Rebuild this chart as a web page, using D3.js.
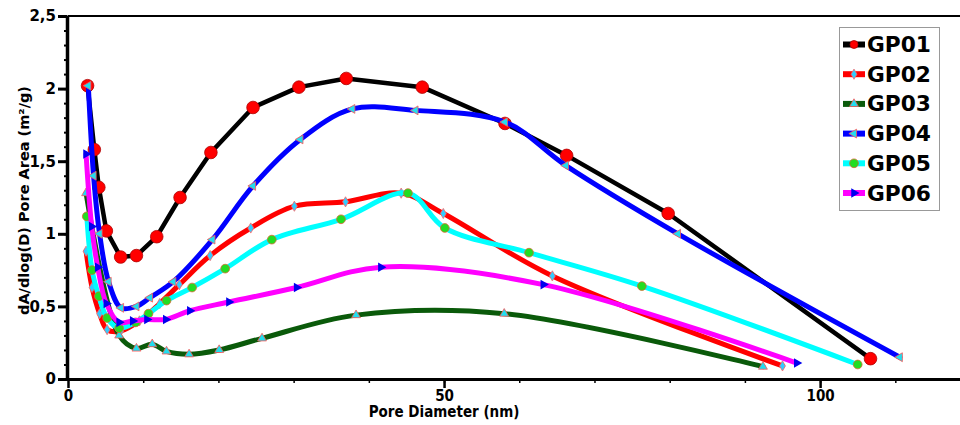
<!DOCTYPE html>
<html>
<head>
<meta charset="utf-8">
<script src="https://cdn.jsdelivr.net/npm/d3@7"></script>
<style>
  html, body { margin: 0; padding: 0; background: #fff; }
  svg { display: block; }
  .tick text { font-family: "DejaVu Sans", Verdana, sans-serif; font-weight: bold; }
</style>
</head>
<body>
<svg id="chart" width="960" height="425"></svg>
<script>
// ---------------- DATA ----------------
const seriesNames = ["GP01", "GP02", "GP03", "GP04", "GP05", "GP06"];

const gp01X = [2.6, 3.5, 4.1, 5.1, 7.0, 9.1, 11.8, 14.9, 19.0, 24.6, 30.7, 37.0, 47.1, 58.1, 66.3, 79.8, 106.7];
const gp01Y = [2.02, 1.58, 1.32, 1.02, 0.84, 0.85, 0.98, 1.25, 1.56, 1.87, 2.01, 2.07, 2.01, 1.76, 1.54, 1.14, 0.14];

const gp02X = [2.4, 3.2, 4.2, 5.2, 7.0, 9.5, 12.2, 14.8, 18.9, 24.3, 30.1, 36.9, 44.3, 49.9, 64.4, 95.0];
const gp02Y = [0.88, 0.63, 0.45, 0.34, 0.33, 0.40, 0.52, 0.65, 0.85, 1.04, 1.19, 1.22, 1.28, 1.14, 0.71, 0.09];

const gp03X = [2.4, 6.8, 9.1, 11.2, 13.1, 16.1, 20.1, 25.8, 38.3, 58.0, 92.4];
const gp03Y = [1.28, 0.30, 0.21, 0.24, 0.19, 0.17, 0.20, 0.28, 0.44, 0.45, 0.085];

const gp04X = [2.7, 3.4, 4.2, 5.4, 7.05, 9.1, 10.9, 14.0, 19.2, 24.6, 30.9, 37.8, 46.2, 58.1, 66.2, 81.1, 110.6];
const gp04Y = [2.02, 1.40, 1.00, 0.67, 0.49, 0.50, 0.56, 0.67, 0.96, 1.33, 1.65, 1.86, 1.85, 1.77, 1.47, 1.00, 0.15];

const gp05X = [2.5, 3.2, 4.1, 5.2, 6.8, 9.0, 10.7, 13.1, 16.5, 20.9, 27.1, 36.3, 45.2, 50.1, 61.3, 76.3, 105.0];
const gp05Y = [1.12, 0.75, 0.57, 0.42, 0.35, 0.39, 0.45, 0.54, 0.63, 0.76, 0.96, 1.10, 1.28, 1.04, 0.87, 0.64, 0.10];

const gp06X = [2.4, 3.15, 3.95, 5.1, 6.8, 8.6, 10.5, 13.0, 16.2, 21.4, 30.4, 41.6, 63.2, 96.9];
const gp06Y = [1.55, 1.05, 0.77, 0.52, 0.39, 0.40, 0.41, 0.41, 0.47, 0.53, 0.63, 0.77, 0.65, 0.11];

const yTickValues = [0, 0.5, 1, 1.5, 2, 2.5];
const xTickValues = [0, 50, 100];
const xLabel = "Pore Diameter (nm)";
const yLabel = "dA/dlog(D) Pore Area (m\u00B2/g)";

// ---------------- STYLE ----------------
const styles = [
  { line: "#000000", width: 4.5, curve: d3.curveLinear, symbol: d3.symbolCircle, size: 125, fill: "#ff0000", stroke: "#b00000", rot: 0 },
  { line: "#ff0000", width: 5, curve: d3.curveCatmullRom.alpha(0.5), symbol: d3.symbolDiamond, size: 30, fill: "#33ccff", stroke: "#ff6666", rot: 0 },
  { line: "#0a5a0a", width: 5, curve: d3.curveCatmullRom.alpha(0.5), symbol: d3.symbolTriangle, size: 34, fill: "#22ddee", stroke: "#ff5555", rot: 0 },
  { line: "#0000ff", width: 5, curve: d3.curveCatmullRom.alpha(0.5), symbol: d3.symbolTriangle, size: 34, fill: "#22ddee", stroke: "#ff5555", rot: -90 },
  { line: "#00ffff", width: 5, curve: d3.curveCatmullRom.alpha(0.5), symbol: d3.symbolCircle, size: 60, fill: "#22dd22", stroke: "#dd6633", rot: 0 },
  { line: "#ff00ff", width: 5, curve: d3.curveCatmullRom.alpha(0.5), symbol: d3.symbolTriangle, size: 40, fill: "#0000ee", stroke: "none", rot: 90 }
];

const allX = [gp01X, gp02X, gp03X, gp04X, gp05X, gp06X];
const allY = [gp01Y, gp02Y, gp03Y, gp04Y, gp05Y, gp06Y];

// ---------------- CHART ----------------
const svg = d3.select("#chart");
const x = d3.scaleLinear().domain([0, 118.6]).range([68, 960]);
const y = d3.scaleLinear().domain([0, 2.5]).range([379, 16]);

// top border
svg.append("line").attr("x1", x(0)).attr("x2", 960).attr("y1", y(2.5)).attr("y2", y(2.5))
  .attr("stroke", "#000").attr("stroke-width", 2);

// minor ticks
const yMinor = d3.range(0, 2.5001, 0.1);
svg.append("g").attr("transform", `translate(${x(0)},0)`)
  .call(d3.axisLeft(y).tickValues(yMinor).tickSize(4).tickFormat(""))
  .call(g => g.select(".domain").remove())
  .call(g => g.selectAll("line").attr("stroke-width", 2));
const xMinor = d3.range(10, 118, 10);
svg.append("g").attr("transform", `translate(0,${y(0)})`)
  .call(d3.axisBottom(x).tickValues(xMinor).tickSize(4).tickFormat(""))
  .call(g => g.select(".domain").remove())
  .call(g => g.selectAll("line").attr("stroke-width", 1.5));

// major axes
svg.append("g").attr("transform", `translate(${x(0) - 1},0)`)
  .call(d3.axisLeft(y).tickValues(yTickValues).tickSize(9).tickSizeOuter(0).tickPadding(2)
    .tickFormat(d => String(d).replace(".", ",")))
  .call(g => g.select(".domain").attr("stroke-width", 3.5))
  .call(g => g.selectAll("line").attr("stroke-width", 3))
  .call(g => g.selectAll("text").attr("font-size", 15).attr("fill", "#000"));

svg.append("g").attr("transform", `translate(0,${y(0)})`)
  .call(d3.axisBottom(x).tickValues(xTickValues).tickSize(9).tickSizeOuter(0).tickPadding(2))
  .call(g => g.select(".domain").attr("stroke-width", 3).attr("d", `M${x(0) - 3},0.5H960`))
  .call(g => g.selectAll("line").attr("stroke-width", 2.5))
  .call(g => g.selectAll("text").attr("font-size", 15).attr("fill", "#000")
    .style("font-stretch", "condensed")
    .attr("font-family", "'DejaVu Sans Condensed', 'Liberation Sans Narrow', 'DejaVu Sans', sans-serif"));

// axis titles
svg.append("text").attr("x", x(50)).attr("y", 417).attr("text-anchor", "middle")
  .attr("font-family", "'DejaVu Sans Condensed', 'Liberation Sans Narrow', 'DejaVu Sans', sans-serif")
  .style("font-stretch", "condensed")
  .attr("font-weight", "bold").attr("font-size", 15).text(xLabel);

svg.append("text").attr("transform", `translate(29,200.5) rotate(-90)`).attr("text-anchor", "middle")
  .attr("font-family", "'DejaVu Sans', Verdana, sans-serif")
  .attr("font-weight", "bold").attr("font-size", 14.5).text(yLabel);

// series
const plot = svg.append("g");
seriesNames.forEach((name, i) => {
  const st = styles[i];
  const pts = allX[i].map((xv, j) => [xv, allY[i][j]]);
  const line = d3.line().x(d => x(d[0])).y(d => y(d[1])).curve(st.curve);
  const g = plot.append("g");
  g.append("path").attr("d", line(pts)).attr("fill", "none").attr("stroke", st.line)
    .attr("stroke-width", st.width).attr("stroke-linejoin", "round").attr("stroke-linecap", "round");
  const sym = d3.symbol().type(st.symbol).size(st.size);
  g.selectAll("path.m").data(pts).join("path").attr("class", "m")
    .attr("d", sym)
    .attr("transform", d => `translate(${x(d[0])},${y(d[1])}) rotate(${st.rot})`)
    .attr("fill", st.fill).attr("stroke", st.stroke).attr("stroke-width", 0.8);
});

// legend
const lg = svg.append("g");
lg.append("rect").attr("x", 839.5).attr("y", 27.5).attr("width", 100).attr("height", 183)
  .attr("fill", "#fff").attr("stroke", "#999").attr("stroke-width", 1);
seriesNames.forEach((name, i) => {
  const st = styles[i];
  const yy = 44.5 + i * 29.7;
  lg.append("line").attr("x1", 843).attr("x2", 865).attr("y1", yy).attr("y2", yy)
    .attr("stroke", st.line).attr("stroke-width", 6);
  lg.append("path").attr("d", d3.symbol().type(st.symbol).size(i === 0 ? 50 : st.size)())
    .attr("transform", `translate(854,${yy}) rotate(${st.rot})`)
    .attr("fill", st.fill).attr("stroke", st.stroke).attr("stroke-width", 0.8);
  lg.append("text").attr("x", 867).attr("y", yy + 7.5)
    .attr("font-family", "'DejaVu Sans', Verdana, sans-serif").attr("font-weight", "bold")
    .attr("font-size", 20.5).attr("textLength", 64).attr("lengthAdjust", "spacingAndGlyphs").text(name);
});
</script>
</body>
</html>
